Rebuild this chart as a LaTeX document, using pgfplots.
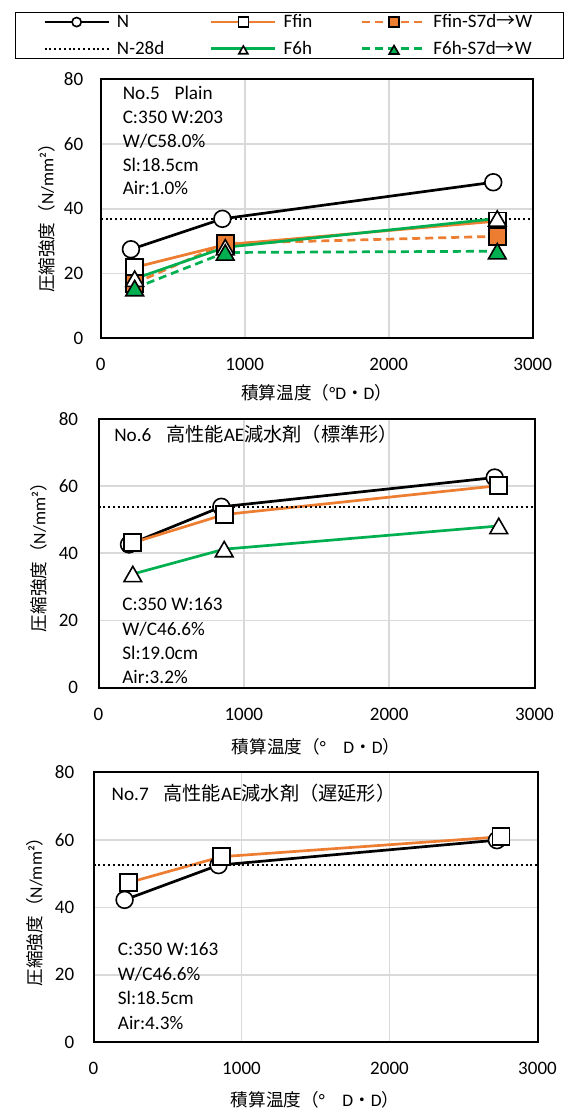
\documentclass[border=0pt]{standalone}
\usepackage{fontspec}
\setmainfont{Carlito}
\newfontfamily\jp{Noto Sans CJK JP}
\usepackage{pgfplots}
\pgfplotsset{compat=1.18}
\definecolor{ora}{HTML}{ED7D31}
\definecolor{grn}{HTML}{00B050}
\definecolor{grd}{HTML}{D9D9D9}
\newcommand{\lblfont}{\fontsize{8.8}{10}\selectfont}
\newcommand{\annfont}{\fontsize{9.6}{11}\selectfont}
\newcommand{\lstrut}{\rule[-2pt]{0pt}{9pt}}
\pgfplotsset{
  panel/.style={
    scale only axis, xmin=0, xmax=3000, ymin=0, ymax=80,
    xtick={0,1000,2000,3000}, ytick={0,20,40,60,80},
    grid=major, major grid style={grd, line width=0.8pt},
    axis line style={line width=1pt},
    tick style={draw=none},
    /pgf/number format/assume math mode=true,
    /pgf/number format/1000 sep={},
    ticklabel style={font=\fontsize{9.5}{11}\selectfont},
    xticklabel style={yshift=-6.5pt},
    label style={font=\lblfont},
  },
  legimg/.style={legend image code/.code={\draw[mark repeat=2,mark phase=2,##1,mark size=#1] plot coordinates {(0pt,0pt) (16pt,0pt) (32pt,0pt)};}},
  Nst/.style={black, line width=1.35pt, mark=*, mark size=4.2pt, mark options={solid, fill=white, draw=black, line width=0.8pt}, legimg=2.3pt},
  Ffst/.style={ora, line width=1.35pt, mark=square*, mark size=4.25pt, mark options={solid, fill=white, draw=black, line width=0.8pt}, legimg=2.5pt},
  Ffdst/.style={ora, line width=1.35pt, dash pattern=on 4pt off 2.5pt, mark=square*, mark size=4.25pt, mark options={solid, fill=ora, draw=black, line width=0.8pt}, legimg=2.5pt},
  F6st/.style={grn, line width=1.35pt, mark=triangle*, mark size=5.1pt, mark options={solid, fill=white, draw=black, line width=0.8pt, yshift=-1.25pt}, legimg=2.6pt},
  F6dst/.style={grn, line width=1.35pt, dash pattern=on 4pt off 2.5pt, mark=triangle*, mark size=5.1pt, mark options={solid, fill=grn, draw=black, line width=0.8pt, yshift=-1.25pt}, legimg=2.8pt},
  N28st/.style={black, line width=1pt, dash pattern=on 1pt off 1.4pt, no markers, legimg=1pt},
}
\begin{document}
\begin{tikzpicture}
\path[use as bounding box] (0,0) rectangle (289.5pt,-555.5pt);
% ---------------- Panel 1
\begin{axis}[panel, at={(50.35pt,-169.15pt)}, anchor=south west, width=216pt, height=129.5pt,
  xlabel={{\jp 積算温度（}°D{\jp ・}D{\jp ）}},
  ylabel={{\jp 圧縮強度（}N/mm²{\jp ）}},
  xlabel style={at={(axis description cs:0.5,-0.211)}, anchor=center},
  ylabel style={at={(axis description cs:-0.125,0.48)}, anchor=center},
  yticklabel style={xshift=-5.2pt},
  legend columns=3,
  legend cell align=left,
  legend style={at={(-0.1991,1.260)}, anchor=north west, draw=black, line width=0.6pt,
    font=\fontsize{9.5}{11}\selectfont, inner xsep=14pt, inner ysep=0.5pt, column sep=0pt, row sep=4.8pt,
    nodes={inner sep=0pt}},
]
\addplot[Nst] coordinates {(210,27.5) (845,36.9) (2726,48.2)};
\addlegendentry{\lstrut\hspace*{3.5pt}\makebox[46.5pt][l]{N}}
\addplot[Ffst] coordinates {(236,21.9) (865,28.9) (2754,36.2)};
\addlegendentry{\lstrut\hspace*{3.5pt}\makebox[38.5pt][l]{Ffin}}
\addplot[Ffdst] coordinates {(236,17.0) (865,29.3) (2754,31.5)};
\addlegendentry{\lstrut\hspace*{3pt}\makebox[51pt][l]{Ffin-S7d{\jp →}W}}
\addplot[N28st] coordinates {(0,36.9) (3000,36.9)};
\addlegendentry{\lstrut\hspace*{3.5pt}\makebox[46.5pt][l]{N-28d}}
\addplot[F6st] coordinates {(236,18.4) (865,28.1) (2754,37.0)};
\addlegendentry{\lstrut\hspace*{3.5pt}\makebox[38.5pt][l]{F6h}}
\addplot[F6dst] coordinates {(236,15.5) (865,26.5) (2754,26.9)};
\addlegendentry{\lstrut\hspace*{3pt}\makebox[51pt][l]{F6h-S7d{\jp →}W}}
\node[anchor=west, font=\annfont] at (axis description cs:0.0347,0.946) {No.5\hspace{7.4pt}Plain};
\node[anchor=west, font=\annfont] at (axis description cs:0.0347,0.853) {C:350 W:203};
\node[anchor=west, font=\annfont] at (axis description cs:0.0347,0.761) {W/C58.0\%};
\node[anchor=west, font=\annfont] at (axis description cs:0.0347,0.668) {Sl:18.5cm};
\node[anchor=west, font=\annfont] at (axis description cs:0.0347,0.579) {Air:1.0\%};
\end{axis}
% ---------------- Panel 2
\begin{axis}[panel, at={(49.25pt,-343.85pt)}, anchor=south west, width=218pt, height=134.5pt,
  xlabel={{\jp 積算温度（}°{\jp 　}D{\jp ・}D{\jp ）}},
  ylabel={{\jp 圧縮強度（}N/mm²{\jp ）}},
  xlabel style={at={(axis description cs:0.499,-0.219)}, anchor=center},
  ylabel style={at={(axis description cs:-0.137,0.5)}, anchor=center},
  yticklabel style={xshift=-6.7pt},
]
\addplot[Nst] coordinates {(210,42.6) (845,53.8) (2726,62.5)};
\addplot[Ffst] coordinates {(236,43.1) (865,51.5) (2754,60.1)};
\addplot[N28st] coordinates {(0,53.7) (3000,53.7)};
\addplot[F6st] coordinates {(236,33.8) (865,41.2) (2754,48.1)};
\node[anchor=west, font=\annfont] at (axis description cs:0.020,0.943) {No.6\hspace{7.4pt}{\jp 高性能}AE{\jp 減水剤（標準形）}};
\node[anchor=west, font=\annfont] at (axis description cs:0.0385,0.310) {C:350 W:163};
\node[anchor=west, font=\annfont] at (axis description cs:0.0385,0.218) {W/C46.6\%};
\node[anchor=west, font=\annfont] at (axis description cs:0.0385,0.128) {Sl:19.0cm};
\node[anchor=west, font=\annfont] at (axis description cs:0.0385,0.041) {Air:3.2\%};
\end{axis}
% ---------------- Panel 3
\begin{axis}[panel, at={(46.75pt,-521.15pt)}, anchor=south west, width=222pt, height=135pt,
  xlabel={{\jp 積算温度（}°{\jp 　}D{\jp ・}D{\jp ）}},
  ylabel={{\jp 圧縮強度（}N/mm²{\jp ）}},
  xlabel style={at={(axis description cs:0.499,-0.214)}, anchor=center},
  ylabel style={at={(axis description cs:-0.1315,0.5)}, anchor=center},
  yticklabel style={xshift=-6.1pt},
]
\addplot[Nst] coordinates {(210,42.2) (845,52.5) (2726,59.9)};
\addplot[Ffst] coordinates {(236,47.3) (865,55.0) (2754,60.9)};
\addplot[N28st] coordinates {(0,52.5) (3000,52.5)};
\node[anchor=west, font=\annfont] at (axis description cs:0.025,0.924) {No.7\hspace{7.4pt}{\jp 高性能}AE{\jp 減水剤（遅延形）}};
\node[anchor=west, font=\annfont] at (axis description cs:0.039,0.3456) {C:350 W:163};
\node[anchor=west, font=\annfont] at (axis description cs:0.039,0.253) {W/C46.6\%};
\node[anchor=west, font=\annfont] at (axis description cs:0.039,0.163) {Sl:18.5cm};
\node[anchor=west, font=\annfont] at (axis description cs:0.039,0.070) {Air:4.3\%};
\end{axis}
\end{tikzpicture}
\end{document}
